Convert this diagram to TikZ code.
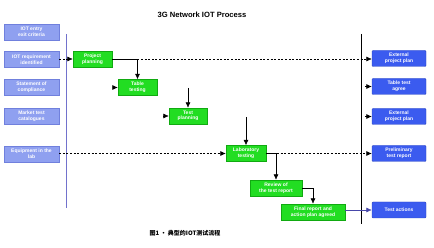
\documentclass[tikz,border=0pt]{standalone}
\usepackage{fontspec}
\setmainfont{Liberation Sans}
\newfontfamily\cjk{Noto Sans CJK SC}
\usetikzlibrary{arrows.meta}
\definecolor{lbox}{HTML}{8FA0F0}
\definecolor{lboxd}{HTML}{7080DD}
\definecolor{gbox}{HTML}{22DD22}
\definecolor{gboxd}{HTML}{11AA11}
\definecolor{rbox}{HTML}{3B5BEF}
\definecolor{rboxd}{HTML}{2A44C0}
\definecolor{lline}{HTML}{7272CC}
\definecolor{bline}{HTML}{4848AA}
\tikzset{
  basebox/.style={rectangle, inner sep=0pt, align=center, text=white,
    font=\fontsize{5}{5.6}\selectfont\bfseries, line width=0.4pt},
  leftbox/.style={basebox, fill=lbox, draw=lboxd, minimum width=55pt, minimum height=16pt},
  greenbox/.style={basebox, fill=gbox, draw=gboxd, minimum height=16pt},
  rightbox/.style={basebox, fill=rbox, draw=rboxd, rounded corners=1pt, minimum width=54pt, minimum height=16pt},
  arr/.style={-{Latex[length=5.5pt,width=5pt]}, line width=0.6pt},
  dashline/.style={arr, dash pattern=on 2pt off 1.6pt},
}
\begin{document}
\begin{tikzpicture}[x=1pt,y=-1pt]
\useasboundingbox (0,0) rectangle (434,248);
\node[font=\fontsize{7.6}{9}\selectfont\bfseries] (title) at (202,15) {3G Network IOT Process};
% left boxes
\node[leftbox] (l1) at (31.5,32) {IOT entry\\exit criteria};
\node[leftbox] (l2) at (31.5,59.5) {IOT requirement\\identified};
\node[leftbox] (l3) at (31.5,87) {Statement of\\compliance};
\node[leftbox] (l4) at (31.5,116.5) {Market test\\catalogues};
\node[leftbox] (l5) at (31.5,154) {Equipment in the\\lab};
% vertical lines
\coordinate (lt) at (66.7,34);
\coordinate (lb) at (66.7,208);
\coordinate (rt) at (361.7,34);
\coordinate (rb) at (361.7,224);
\draw[lline, line width=0.9pt] (lt) -- (lb);
\draw[black, line width=0.8pt] (rt) -- (rb);
% green boxes
\node[greenbox, minimum width=39pt] (g1) at (92.5,59) {Project\\planning};
\node[greenbox, minimum width=39pt] (g2) at (137.5,87.5) {Table\\testing};
\node[greenbox, minimum width=38pt] (g3) at (188,116) {Test\\planning};
\node[greenbox, minimum width=40pt] (g4) at (246,153.5) {Laboratory\\testing};
\node[greenbox, minimum width=52pt] (g5) at (276,188) {Review of\\the test report};
\node[greenbox, minimum width=64pt] (g6) at (313,212) {Final report and\\action plan agreed};
% right boxes
\node[rightbox] (r1) at (399,58.5) {External\\project plan};
\node[rightbox] (r2) at (399,86.5) {Table test\\agree};
\node[rightbox] (r3) at (399,116.5) {External\\project plan};
\node[rightbox] (r4) at (399,153.5) {Preliminary\\test report};
\node[rightbox] (r5) at (399,210) {Test actions};
% connectors
\draw[dashline] (l2.east |- g1.west) -- (g1.west);
\draw[dashline] (g1.east) -- (r1.west |- g1.east);
\draw[arr] (g1.east) -| (g2.north);
\coordinate (a2) at (112.5,87.5);
\draw[arr] (a2) -- (g2.west);
\coordinate (a3) at (163,116);
\draw[arr] (a3) -- (g3.west);
\coordinate (v3) at (188,88);
\draw[arr] (v3) -- (g3.north);
\coordinate (v4) at (246,117);
\draw[arr] (v4) -- (g4.north);
\draw[dashline] (l5.east |- g4.west) -- (g4.west);
\draw[dashline] (g4.east) -- (r4.west);
\draw[arr] (g4.east) -| (g5.north);
\draw[arr] (g5.east) -| (g6.north);
\draw[arr, draw=bline] (g6.east |- r5.west) -- (r5.west);
\coordinate (ar2) at (365,86.5);
\draw[arr] (ar2) -- (r2.west);
\coordinate (ar3) at (365,116.5);
\draw[arr] (ar3) -- (r3.west);
% caption
\node[font=\cjk\fontsize{6}{7}\selectfont\bfseries] (cap) at (185,233) {图1 · 典型的IOT测试流程};
\end{tikzpicture}
\end{document}
